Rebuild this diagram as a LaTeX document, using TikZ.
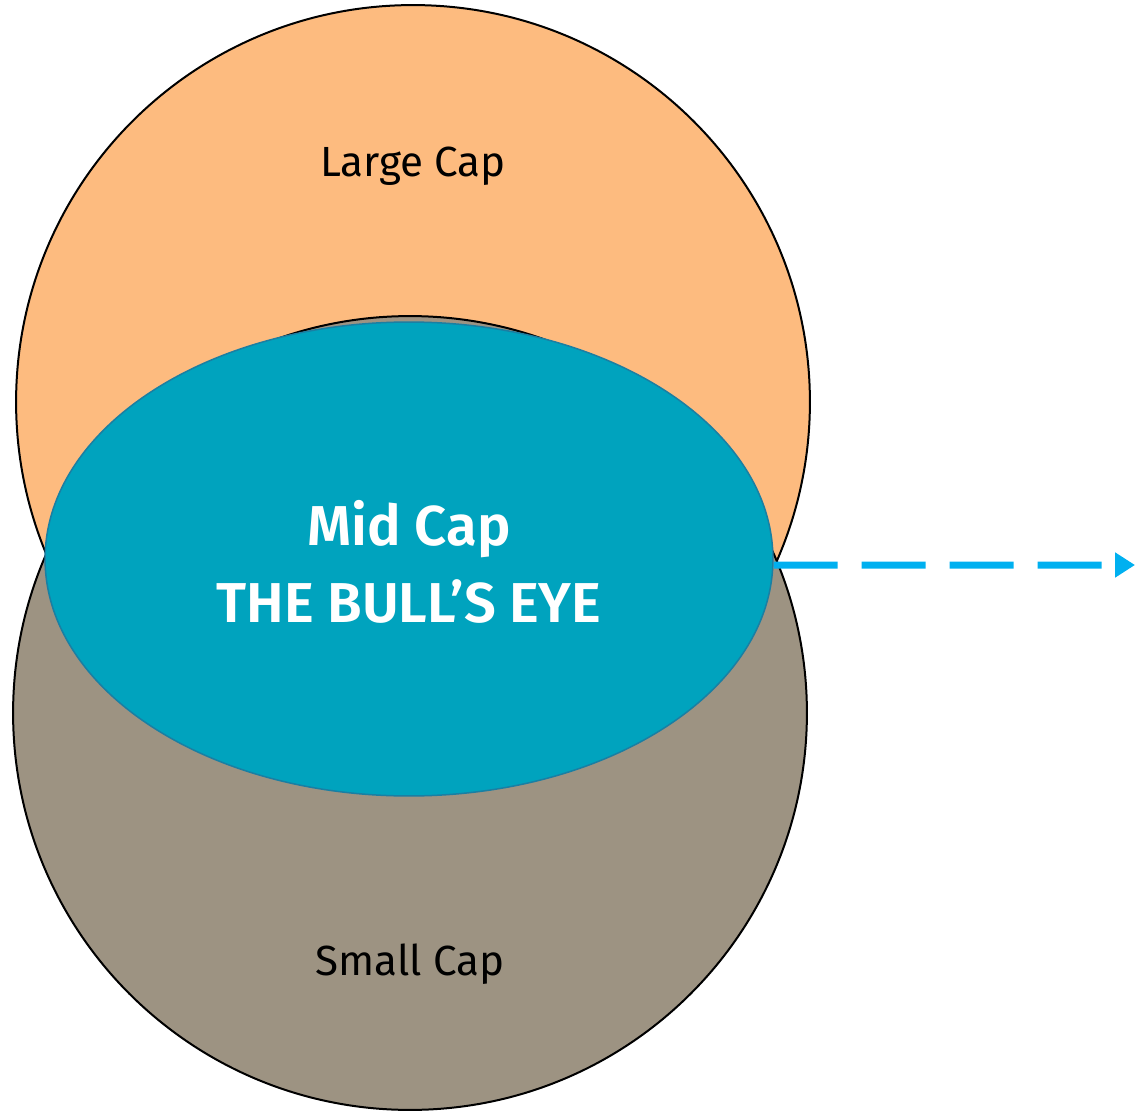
\documentclass[tikz,border=0pt]{standalone}
\usepackage{fontspec}
\setmainfont{Fira Sans}[BoldFont={Fira Sans SemiBold}]
\usepackage{xcolor}
\usepackage{tikz}
\usetikzlibrary{
  arrows.meta,
  shapes.geometric,
  positioning
}
\definecolor{largecol}{HTML}{FDBB7F}
\definecolor{smallcol}{HTML}{9D9382}
\definecolor{midcol}{HTML}{00A3BE}
\definecolor{midedge}{HTML}{1A7FA3}
\definecolor{arrowcol}{HTML}{00B0F0}
\tikzset{
  capcircle/.style={circle,draw=black,line width=0.04cm,minimum size=15.88cm,inner sep=0pt},
  captext/.style={anchor=base,font=\fontsize{24}{28}\selectfont,text=black},
  bulltext/.style={anchor=base,font=\bfseries\fontsize{32}{36}\selectfont,text=white}
}

\begin{document}
\begin{tikzpicture}[x=0.02cm,y=-0.02cm]
  \useasboundingbox (0,0) rectangle (1135,1114);
  \node[capcircle,fill=largecol] (large) at (413,402) {};
  \node[capcircle,fill=smallcol] (small) at (410,713) {};
  \node[ellipse,draw=midedge,line width=0.03cm,fill=midcol,minimum width=14.56cm,minimum height=9.48cm,inner sep=0pt] (mid) at (409,559) {};
  \node[captext] (largelbl) at (413,177) {Large Cap};
  \node[captext] (smalllbl) at (410,975) {Small Cap};
  \node[bulltext] (midlbl) at (409,545) {Mid Cap};
  \node[bulltext] (eyelbl) at (409,622) {THE BULL’S EYE};
  \coordinate (tip) at (1135,565);
  \draw[arrowcol,line width=0.14cm,dash pattern=on 1.28cm off 0.48cm,-{Triangle[length=0.4cm,width=0.48cm]}] ([yshift=-0.12cm]mid.east) -- (tip);
\end{tikzpicture}
\end{document}
